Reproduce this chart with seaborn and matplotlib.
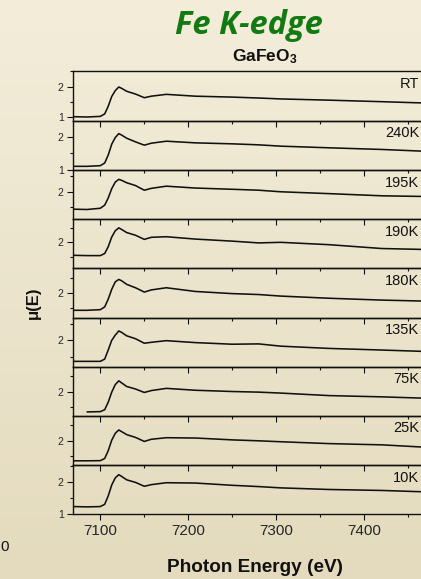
import numpy as np
import matplotlib
matplotlib.use("Agg")
import matplotlib.pyplot as plt
from matplotlib.ticker import MultipleLocator
import seaborn as sns

# Fe K-edge XANES of GaFeO3 at several temperatures (top to bottom)
energy = [7070, 7085, 7100, 7105, 7109, 7113, 7117, 7121, 7124, 7130, 7140,
          7150, 7158, 7175, 7208, 7250, 7280, 7305, 7360, 7420, 7465, 7500]

temperatures = ["RT", "240K", "195K", "190K", "180K", "135K", "75K", "25K", "10K"]

mu_rt = [1.02, 1.01, 1.03, 1.11, 1.36, 1.68, 1.87, 1.99, 1.95, 1.85, 1.76,
         1.64, 1.69, 1.75, 1.69, 1.66, 1.63, 1.60, 1.56, 1.51, 1.47, 1.45]
mu_240 = [1.11, 1.11, 1.13, 1.21, 1.45, 1.78, 1.98, 2.10, 2.06, 1.96, 1.85,
          1.75, 1.81, 1.87, 1.82, 1.79, 1.76, 1.72, 1.67, 1.62, 1.57, 1.55]
mu_195 = [1.44, 1.43, 1.47, 1.57, 1.80, 2.10, 2.31, 2.40, 2.37, 2.29, 2.20,
          2.05, 2.11, 2.18, 2.12, 2.08, 2.05, 2.00, 1.94, 1.87, 1.85, 1.84]
mu_190 = [1.56, 1.55, 1.55, 1.62, 1.85, 2.18, 2.39, 2.49, 2.44, 2.33, 2.24,
          2.10, 2.17, 2.19, 2.11, 2.04, 1.98, 2.00, 1.92, 1.79, 1.76, 1.75]
mu_180 = [1.44, 1.44, 1.46, 1.55, 1.80, 2.12, 2.36, 2.44, 2.40, 2.28, 2.17,
          2.03, 2.10, 2.17, 2.05, 1.98, 1.95, 1.90, 1.83, 1.77, 1.74, 1.73]
mu_135 = [1.35, 1.35, 1.35, 1.42, 1.70, 2.00, 2.16, 2.29, 2.25, 2.14, 2.05,
          1.91, 1.94, 1.99, 1.93, 1.88, 1.89, 1.82, 1.75, 1.70, 1.66, 1.65]
mu_75 = [np.nan, 1.35, 1.36, 1.42, 1.66, 1.98, 2.22, 2.34, 2.28, 2.16, 2.08,
         1.97, 2.03, 2.10, 2.04, 2.00, 1.98, 1.95, 1.87, 1.83, 1.79, 1.78]
mu_25 = [1.355, 1.355, 1.36, 1.43, 1.68, 2.02, 2.24, 2.35, 2.30, 2.20, 2.11,
         1.98, 2.05, 2.10, 2.09, 2.03, 2.00, 1.97, 1.91, 1.87, 1.80, 1.79]
mu_10 = [1.23, 1.22, 1.23, 1.30, 1.56, 1.90, 2.12, 2.22, 2.17, 2.06, 1.98,
         1.86, 1.91, 1.97, 1.96, 1.89, 1.85, 1.81, 1.76, 1.73, 1.69, 1.68]

spectra = [mu_rt, mu_240, mu_195, mu_190, mu_180, mu_135, mu_75, mu_25, mu_10]

# vertical range of each stacked panel
y_ranges = [(0.889, 2.503), (0.999, 2.49), (1.115, 2.70), (1.12, 2.78),
            (1.20, 2.80), (1.185, 2.70), (1.23, 2.79), (1.22, 2.81), (0.99, 2.52)]
x_range = (7069, 7499)

sns.set_style("ticks")
plt.rcParams["font.family"] = ["Liberation Sans", "DejaVu Sans"]
plt.rcParams["mathtext.fontset"] = "custom"
plt.rcParams["mathtext.bf"] = "Liberation Sans:bold"
plt.rcParams["mathtext.rm"] = "Liberation Sans"

W, H = 421, 579
fig = plt.figure(figsize=(W / 100, H / 100), dpi=100)

# soft cream backdrop
bg = fig.add_axes([0, 0, 1, 1], zorder=-10)
top_c = np.array([243, 237, 218]) / 255
bot_c = np.array([228, 219, 190]) / 255
t = np.linspace(0, 1, 256)[:, None, None]
grad = top_c * (1 - t) + bot_c * t
grad = np.repeat(grad, 2, axis=1)
bg.imshow(grad, aspect="auto", extent=[0, 1, 0, 1], interpolation="bilinear")
bg.axis("off")

edges = [71.3, 120.7, 170.0, 219.3, 268.3, 317.7, 366.7, 415.7, 465.0, 514.3]
left_px, right_px = 73.0, 451.5
label_x = (419.5 - left_px) / (right_px - left_px)

for i, (temp, mu) in enumerate(zip(temperatures, spectra)):
    top, bottom = edges[i], edges[i + 1]
    ax = fig.add_axes([left_px / W, 1 - bottom / H,
                       (right_px - left_px) / W, (bottom - top) / H])
    ax.patch.set_alpha(0)
    sns.lineplot(x=energy, y=mu, ax=ax, color="#111111", linewidth=1.15)
    ax.set_xlim(*x_range)
    ax.set_ylim(*y_ranges[i])
    ax.xaxis.set_major_locator(MultipleLocator(100))
    ax.xaxis.set_minor_locator(MultipleLocator(50))
    ax.yaxis.set_major_locator(MultipleLocator(1))
    ax.yaxis.set_minor_locator(MultipleLocator(0.5))
    ax.tick_params(which="major", direction="out", length=4.2, width=0.8,
                   color="#111111")
    ax.tick_params(which="minor", direction="out", length=2.3, width=0.8,
                   color="#111111")
    ax.tick_params(axis="y", labelsize=7.5, pad=2.5)
    ax.tick_params(axis="x", labelsize=11, pad=3,
                   labelbottom=(i == len(temperatures) - 1))
    for sp in ax.spines.values():
        sp.set_visible(True)
        sp.set_linewidth(1.0)
        sp.set_color("#111111")
    ax.set_xlabel("")
    ax.set_ylabel("")
    ax.annotate(temp, xy=(label_x, 1), xycoords="axes fraction",
                xytext=(0, -12), textcoords="offset points",
                ha="right", va="baseline", fontsize=10.5, color="#111111")

fig.text(248.8 / W, 1 - 34.3 / H, "Fe K-edge", color="#137a13",
         fontsize=23.5, fontweight="bold", fontstyle="italic",
         family=["Open Sans", "DejaVu Sans"], ha="center", va="baseline")
fig.text(265 / W, 1 - 61 / H, r"$\mathbf{GaFeO_3}$", fontsize=12.5,
         ha="center", va="baseline", color="#111111")
fig.text(33 / W, 1 - 303 / H, "μ(E)", rotation=90, fontsize=12,
         fontweight="bold", ha="center", va="center", color="#111111")
fig.text(254.7 / W, 1 - 567 / H, "Photon Energy (eV)", fontsize=13.7,
         fontweight="bold", ha="center", va="center", color="#111111")
fig.text(0.5 / W, 1 - 547 / H, "0", fontsize=11, ha="left",
         va="center", color="#111111")

fig.savefig("out.png", dpi=100)
